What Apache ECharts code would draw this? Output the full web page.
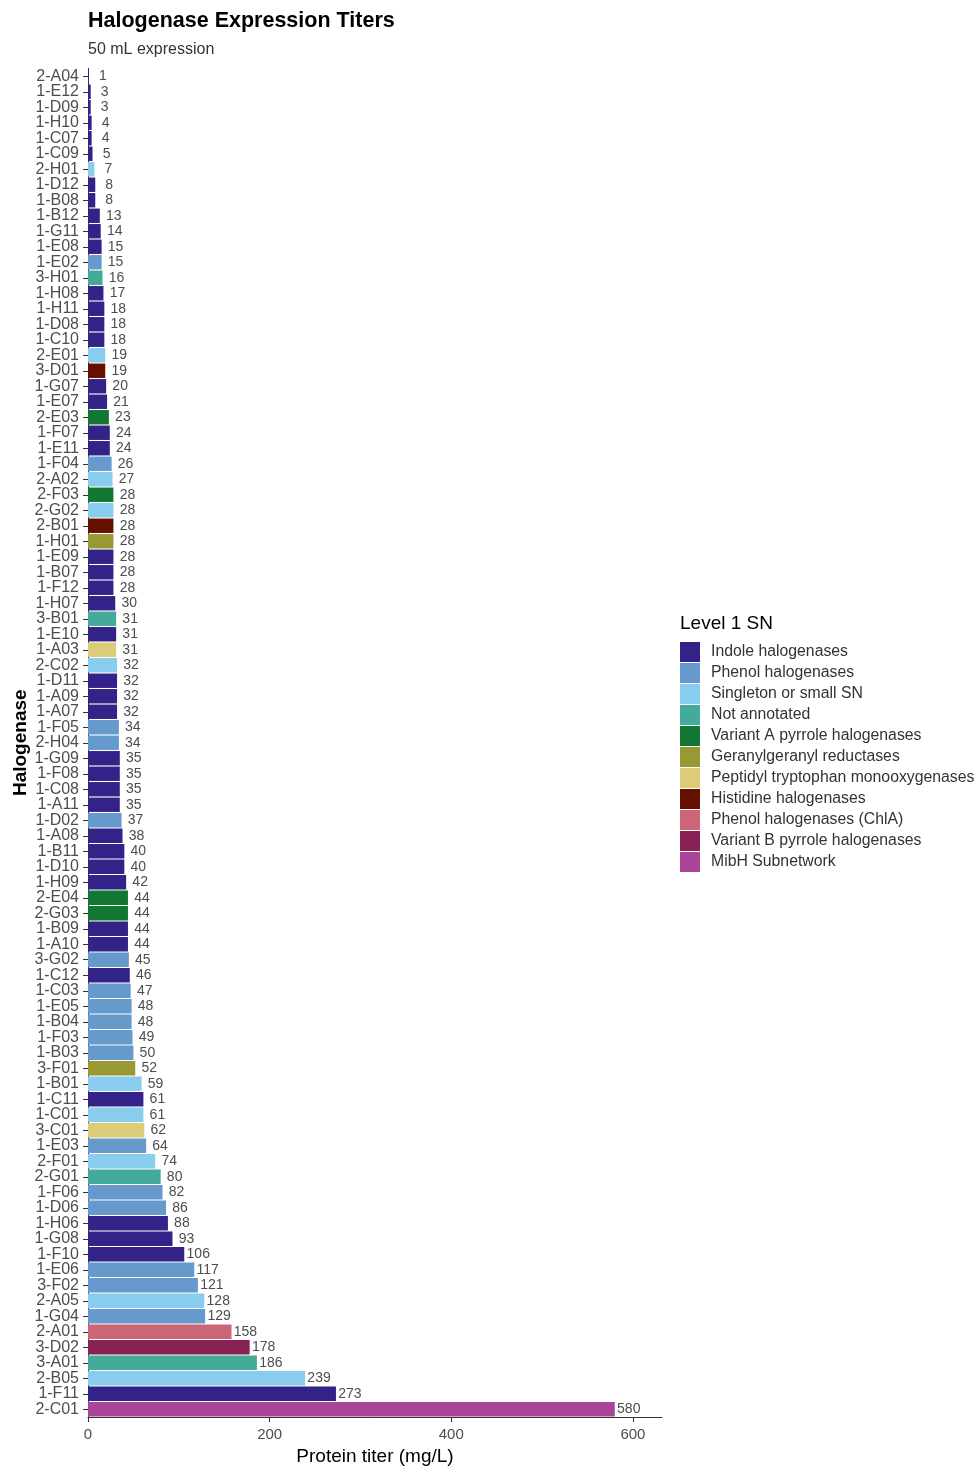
<!DOCTYPE html>
<html>
<head>
<meta charset="utf-8">
<script src="https://cdn.jsdelivr.net/npm/echarts@6/dist/echarts.min.js"></script>
<style>
html,body{margin:0;padding:0;background:#fff;}
#chart{width:977px;height:1466px;}
</style>
</head>
<body>
<div id="chart"></div>
<script>
const groupNames = [
  "Indole halogenases",
  "Phenol halogenases",
  "Singleton or small SN",
  "Not annotated",
  "Variant A pyrrole halogenases",
  "Geranylgeranyl reductases",
  "Peptidyl tryptophan monooxygenases",
  "Histidine halogenases",
  "Phenol halogenases (ChlA)",
  "Variant B pyrrole halogenases",
  "MibH Subnetwork"
];
const groupColors = ["#332288","#6699CC","#88CCEE","#44AA99","#117733","#999933","#DDCC77","#661100","#CC6677","#882255","#AA4499"];

const categories = ["2-A04","1-E12","1-D09","1-H10","1-C07","1-C09","2-H01","1-D12","1-B08","1-B12",
  "1-G11","1-E08","1-E02","3-H01","1-H08","1-H11","1-D08","1-C10","2-E01","3-D01",
  "1-G07","1-E07","2-E03","1-F07","1-E11","1-F04","2-A02","2-F03","2-G02","2-B01",
  "1-H01","1-E09","1-B07","1-F12","1-H07","3-B01","1-E10","1-A03","2-C02","1-D11",
  "1-A09","1-A07","1-F05","2-H04","1-G09","1-F08","1-C08","1-A11","1-D02","1-A08",
  "1-B11","1-D10","1-H09","2-E04","2-G03","1-B09","1-A10","3-G02","1-C12","1-C03",
  "1-E05","1-B04","1-F03","1-B03","3-F01","1-B01","1-C11","1-C01","3-C01","1-E03",
  "2-F01","2-G01","1-F06","1-D06","1-H06","1-G08","1-F10","1-E06","3-F02","2-A05",
  "1-G04","2-A01","3-D02","3-A01","2-B05","1-F11","2-C01"];

const titers = [1,3,3,4,4,5,7,8,8,13,
  14,15,15,16,17,18,18,18,19,19,
  20,21,23,24,24,26,27,28,28,28,
  28,28,28,28,30,31,31,31,32,32,
  32,32,34,34,35,35,35,35,37,38,
  40,40,42,44,44,44,44,45,46,47,
  48,48,49,50,52,59,61,61,62,64,
  74,80,82,86,88,93,106,117,121,128,
  129,158,178,186,239,273,580];

// index into groupNames
const groups = [0,0,0,0,0,0,2,0,0,0,
  0,0,1,3,0,0,0,0,2,7,
  0,0,4,0,0,1,2,4,2,7,
  5,0,0,0,0,3,0,6,2,0,
  0,0,1,1,0,0,0,0,1,0,
  0,0,0,4,4,0,0,1,0,1,
  1,1,1,1,5,2,0,2,6,1,
  2,3,1,1,0,0,0,1,1,2,
  1,8,9,3,2,0,10];

const xTicks = [0,200,400,600];

const FONT = 'Liberation Sans, Arial, sans-serif';

const series = groupNames.map((name, g) => ({
  name: name,
  type: 'bar',
  stack: 'all',
  barCategoryGap: '7%',
  color: groupColors[g],
  itemStyle: { color: groupColors[g] },
  label: {
    show: true,
    position: 'right',
    fontFamily: FONT,
    fontSize: 14,
    color: '#4d4d4d',
    formatter: p => String(p.value)
  },
  data: titers.map((v, i) => groups[i] === g
    ? { value: v, label: { distance: 14 - 3.9 * String(v).length } }
    : '-')
}));

const chart = echarts.init(document.getElementById('chart'), null, { renderer: 'canvas' });
chart.setOption({
  animation: false,
  textStyle: { fontFamily: FONT },
  title: {
    text: 'Halogenase Expression Titers',
    subtext: '50 mL expression',
    left: 83,
    top: 5,
    itemGap: 10,
    textStyle: { fontSize: 21.5, fontWeight: 'bold', color: '#000', fontFamily: FONT },
    subtextStyle: { fontSize: 16, color: '#333', fontFamily: FONT }
  },
  legend: {
    orient: 'vertical',
    left: 680,
    top: 642,
    padding: 0,
    itemWidth: 20,
    itemHeight: 20,
    itemGap: 1,
    icon: 'rect',
    data: groupNames,
    textStyle: { fontSize: 15.8, color: '#333', padding: [0, 0, 0, 6], fontFamily: FONT }
  },
  graphic: [{
    type: 'text',
    left: 680,
    top: 614,
    style: { text: 'Level 1 SN', fontSize: 19, fill: '#000', fontFamily: FONT }
  }],
  grid: { left: 88, top: 68.5, width: 574, height: 1348.5, containLabel: false, outerBoundsMode: 'none' },
  xAxis: {
    type: 'value',
    min: 0,
    max: 632,
    interval: 200,
    splitLine: { show: false },
    axisLine: { show: true, lineStyle: { color: '#333', width: 1 } },
    axisTick: { show: true, length: 5, lineStyle: { color: '#333' }, customValues: xTicks },
    axisLabel: { fontSize: 15, color: '#4d4d4d', margin: 10, customValues: xTicks, fontFamily: FONT },
    name: 'Protein titer (mg/L)',
    nameLocation: 'middle',
    nameGap: 30,
    nameMoveOverlap: false,
    nameTextStyle: { fontSize: 19, color: '#000', fontFamily: FONT }
  },
  yAxis: {
    type: 'category',
    inverse: true,
    data: categories,
    axisLine: { show: true, lineStyle: { color: '#333', width: 1 } },
    axisTick: { show: true, length: 5, alignWithLabel: true, interval: 0, lineStyle: { color: '#333' } },
    axisLabel: { fontSize: 16, color: '#4d4d4d', margin: 9, interval: 0, fontFamily: FONT },
    name: 'Halogenase',
    nameLocation: 'middle',
    nameGap: 58,
    nameMoveOverlap: false,
    nameTextStyle: { fontSize: 19, fontWeight: 'bold', color: '#000', fontFamily: FONT }
  },
  series: series
});
</script>
</body>
</html>
